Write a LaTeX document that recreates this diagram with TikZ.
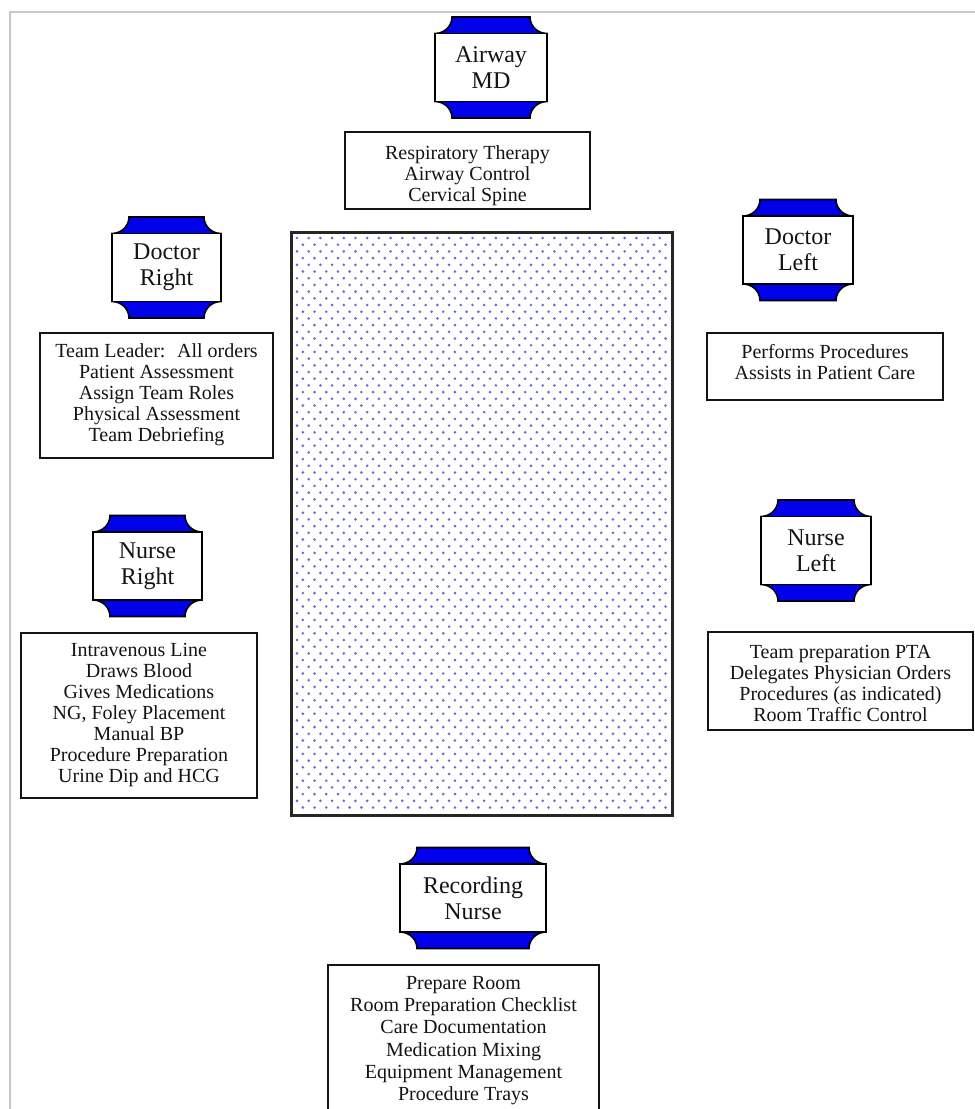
\documentclass[tikz,border=0pt]{standalone}
\usepackage{fontspec}
\setmainfont{Liberation Serif}
\definecolor{framegray}{RGB}{200,200,200}
\definecolor{plaqueblue}{RGB}{0,0,235}
\definecolor{inkcol}{RGB}{20,20,20}
\definecolor{dotblue}{RGB}{105,105,215}
\tikzset{
  plaque/.style={fill=plaqueblue, draw=black, line width=1.6pt},
  rolebox/.style={draw=black, fill=white, line width=1.8pt, minimum height=68pt,
    inner sep=0pt, align=center, text=inkcol, font=\fontsize{24}{26}\selectfont},
  descbox/.style={draw=inkcol, fill=white, line width=1.8pt, inner sep=0pt},
  desctext/.style={align=center, inner sep=0pt, text=inkcol, font=\fontsize{20}{21}\selectfont},
  bed/.style={draw=black!85, line width=2.2pt, inner sep=0pt}
}
% role label: blue plaque behind a white framed name box
\newcommand\roleicon[5]{%
  \begin{scope}[shift={(#2,#3)}]
    \pgfmathsetmacro\rolehw{#4/2}
    \filldraw[plaque] ({-\rolehw},34)
      arc[start angle=-90, end angle=0, x radius=17, y radius=16.5]
      -- ({\rolehw-17},50.5)
      arc[start angle=180, end angle=270, x radius=17, y radius=16.5]
      -- ({\rolehw},-34)
      arc[start angle=90, end angle=180, x radius=17, y radius=16.5]
      -- ({-\rolehw+17},-50.5)
      arc[start angle=0, end angle=90, x radius=17, y radius=16.5]
      -- cycle;
  \end{scope}
  \node[rolebox, minimum width=#4pt] (#1) at (#2,#3) {#5};
}
\begin{document}
\begin{tikzpicture}[x=1pt, y=1pt]
  \clip (0,0) rectangle (975,-1109);
  \fill[white] (0,0) rectangle (975,-1109);
  % page frame
  \draw[framegray, line width=2.5pt] (10,-1115) -- (10,-12) -- (980,-12);

  % central table with dotted fill
  \node[bed, minimum width=380pt, minimum height=582pt] (bed) at (482,-524) {};
  \fill[dotblue] foreach \j in {0,...,85} { foreach \i in {0,...,31}
    { ({297+11.7*\i+5.85*mod(\j,2)}, {-238-6.7*\j}) circle[radius=1.45] } };
  \draw[black!85, line width=2.2pt] (bed.north west) rectangle (bed.south east);

  % role labels
  \roleicon{airway}{491}{-67.5}{112}{Airway\\MD}
  \roleicon{drright}{166.5}{-267.5}{109}{Doctor\\Right}
  \roleicon{drleft}{798}{-250}{110}{Doctor\\Left}
  \roleicon{nright}{147.5}{-566}{109}{Nurse\\Right}
  \roleicon{nleft}{816}{-550.5}{110}{Nurse\\Left}
  \roleicon{recnurse}{473}{-898}{146}{Recording\\Nurse}

  % duty boxes
  \node[descbox, minimum width=245pt, minimum height=77pt] (airwaybox) at (467.5,-170.5) {};
  \node[desctext] (airwaytext) at (467.5,-176) {Respiratory Therapy\\Airway Control\\Cervical Spine};

  \node[descbox, minimum width=233pt, minimum height=125pt] (drrightbox) at (156.5,-395.5) {};
  \node[desctext] (drrighttext) at (156.5,-395) {Team Leader:~ All orders\\Patient Assessment\\Assign Team Roles\\Physical Assessment\\Team Debriefing};

  \node[descbox, minimum width=236pt, minimum height=67pt] (drleftbox) at (825,-366.5) {};
  \node[desctext] (drlefttext) at (825,-362.5) {Performs Procedures\\Assists in Patient Care};

  \node[descbox, minimum width=236pt, minimum height=165pt] (nrightbox) at (139,-715.5) {};
  \node[desctext] (nrighttext) at (139,-715) {Intravenous Line\\Draws Blood\\Gives Medications\\NG, Foley Placement\\Manual BP\\Procedure Preparation\\Urine Dip and HCG};

  \node[descbox, minimum width=265pt, minimum height=98pt] (nleftbox) at (840.5,-681) {};
  \node[desctext] (nlefttext) at (840.5,-683.5) {Team preparation PTA\\Delegates Physician Orders\\Procedures (as indicated)\\Room Traffic Control};

  \node[descbox, minimum width=271pt, minimum height=155pt] (recbox) at (463.5,-1042.5) {};
  \node[desctext, font=\fontsize{20}{22.2}\selectfont] (rectext) at (463.5,-1040.5) {Prepare Room\\Room Preparation Checklist\\Care Documentation\\Medication Mixing\\Equipment Management\\Procedure Trays};
\end{tikzpicture}
\end{document}
